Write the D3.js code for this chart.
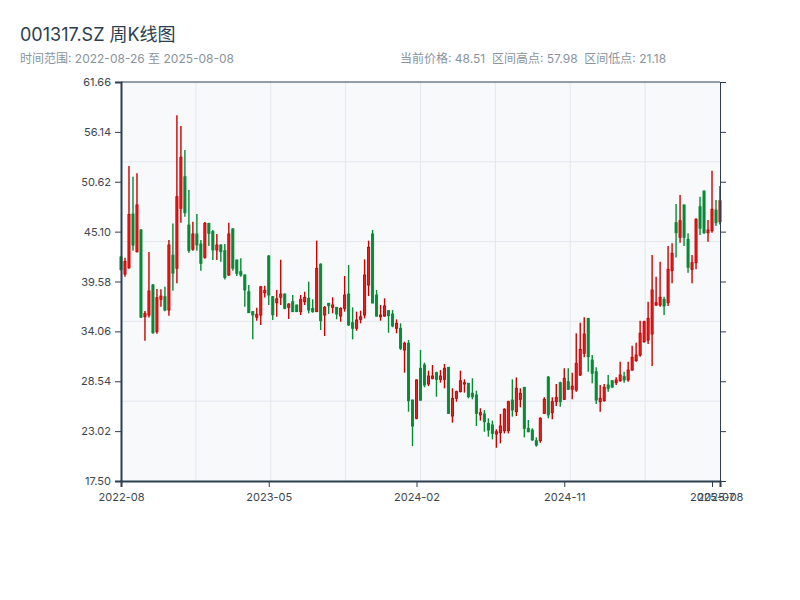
<!DOCTYPE html>
<html><head><meta charset="utf-8">
<script src="https://cdn.jsdelivr.net/npm/d3@7/dist/d3.min.js"></script>
<style>
html,body{margin:0;padding:0;background:#fff;}
svg{display:block;font-family:Inter,"Noto Sans CJK SC",sans-serif;}
</style></head><body>
<div id="chart"></div>
<script>
const symbol = "001317.SZ";
const dates = [
"2022-08-26","2022-09-02","2022-09-09","2022-09-16","2022-09-23","2022-09-30","2022-10-14","2022-10-21","2022-10-28","2022-11-04",
"2022-11-11","2022-11-18","2022-11-25","2022-12-02","2022-12-09","2022-12-16","2022-12-23","2022-12-30","2023-01-06","2023-01-13",
"2023-01-20","2023-02-03","2023-02-10","2023-02-17","2023-02-24","2023-03-03","2023-03-10","2023-03-17","2023-03-24","2023-03-31",
"2023-04-07","2023-04-14","2023-04-21","2023-04-28","2023-05-05","2023-05-12","2023-05-19","2023-05-26","2023-06-02","2023-06-09",
"2023-06-16","2023-06-21","2023-06-30","2023-07-07","2023-07-14","2023-07-21","2023-07-28","2023-08-04","2023-08-11","2023-08-18",
"2023-08-25","2023-09-01","2023-09-08","2023-09-15","2023-09-22","2023-09-28","2023-10-13","2023-10-20","2023-10-27","2023-11-03",
"2023-11-10","2023-11-17","2023-11-24","2023-12-01","2023-12-08","2023-12-15","2023-12-22","2023-12-29","2024-01-05","2024-01-12",
"2024-01-19","2024-01-26","2024-02-02","2024-02-08","2024-02-23","2024-03-01","2024-03-08","2024-03-15","2024-03-22","2024-03-29",
"2024-04-03","2024-04-12","2024-04-19","2024-04-26","2024-04-30","2024-05-10","2024-05-17","2024-05-24","2024-05-31","2024-06-07",
"2024-06-14","2024-06-21","2024-06-28","2024-07-05","2024-07-12","2024-07-19","2024-07-26","2024-08-02","2024-08-09","2024-08-16",
"2024-08-23","2024-08-30","2024-09-06","2024-09-13","2024-09-20","2024-09-27","2024-09-30","2024-10-11","2024-10-18","2024-10-25",
"2024-11-01","2024-11-08","2024-11-15","2024-11-22","2024-11-29","2024-12-06","2024-12-13","2024-12-20","2024-12-27","2025-01-03",
"2025-01-10","2025-01-17","2025-01-24","2025-01-27","2025-02-07","2025-02-14","2025-02-21","2025-02-28","2025-03-07","2025-03-14",
"2025-03-21","2025-03-28","2025-04-03","2025-04-11","2025-04-18","2025-04-25","2025-04-30","2025-05-09","2025-05-16","2025-05-23",
"2025-05-30","2025-06-06","2025-06-13","2025-06-20","2025-06-27","2025-07-04","2025-07-11","2025-07-18","2025-07-25","2025-08-01",
"2025-08-08"];
const open = [
42.3,40.4,41.1,47.05,42.88,45.28,35.68,35.87,39.19,34.02,
37.61,37.9,36.42,42.5,41.04,47.68,51.18,45.83,43.14,44.84,
43.73,42.25,46.0,45.1,43.07,43.62,42.99,40.3,45.4,41.96,
40.67,40.3,38.45,36.24,35.62,35.87,38.34,42.4,37.9,37.23,
37.83,38.19,36.72,37.34,36.98,36.24,37.34,37.72,36.61,36.24,
41.5,35.87,37.17,36.72,36.72,35.76,36.61,38.19,35.02,34.4,
35.39,35.87,39.19,44.84,38.08,35.68,35.76,36.35,35.98,34.4,
34.4,32.0,32.74,26.46,24.44,29.97,30.34,28.24,28.86,29.49,
28.75,28.75,30.08,24.69,26.65,27.39,28.24,28.31,27.21,27.02,
24.81,24.92,23.88,23.7,22.7,22.85,23.07,23.07,26.46,25.17,
26.54,27.87,23.33,23.14,21.96,21.96,24.99,29.0,25.06,26.28,
28.38,26.54,28.49,27.65,27.57,29.23,31.63,35.5,30.89,29.6,
26.28,26.39,28.13,28.6,28.38,28.6,29.05,28.68,29.78,30.82,
31.44,32.92,33.1,33.77,36.98,36.98,37.61,37.23,40.78,46.09,
44.47,48.05,44.25,40.93,41.66,47.86,49.6,44.98,45.2,47.49,
46.2];
const high = [
42.4,42.2,52.36,51.18,51.55,45.4,36.31,42.84,39.3,38.75,
38.72,39.0,44.17,46.0,57.98,56.79,54.13,49.71,46.2,47.05,
44.17,46.16,46.09,45.28,44.84,43.7,43.73,46.09,45.47,42.0,
42.15,40.35,39.19,36.3,36.68,39.08,39.1,42.5,37.97,38.64,
41.98,38.25,37.17,38.08,37.0,38.08,38.45,39.56,37.61,44.1,
41.59,36.87,37.2,37.83,36.75,36.72,40.19,41.4,36.72,36.24,
36.35,42.03,44.1,45.28,38.64,36.98,37.72,36.4,36.42,35.39,
34.95,32.92,33.1,26.5,28.75,32.0,30.6,29.71,30.34,29.6,
29.78,30.45,30.1,27.76,27.5,29.71,28.75,28.35,28.87,27.5,
25.55,25.36,24.44,24.18,23.22,24.92,25.55,26.39,28.75,28.97,
27.76,27.9,24.25,23.33,22.33,24.55,26.76,29.12,26.76,28.24,
28.49,29.97,29.97,29.49,33.85,35.02,35.61,35.5,31.44,30.08,
28.13,28.24,29.23,28.65,28.97,30.71,29.6,30.71,32.47,32.81,
35.24,35.24,37.34,42.51,40.11,41.77,37.9,43.51,43.8,48.16,
49.15,48.1,44.91,42.51,46.57,48.97,49.63,46.39,51.84,48.6,
50.15];
const low = [
40.8,40.1,41.0,42.99,42.8,35.6,33.03,35.6,33.8,33.79,
36.79,36.3,35.8,38.56,39.38,46.09,46.75,42.76,42.99,42.99,
40.78,42.1,43.51,41.96,41.96,41.77,39.8,40.2,40.78,40.2,
40.11,36.79,36.1,33.18,35.24,34.77,37.8,36.98,35.32,35.68,
36.98,36.5,35.43,36.2,36.2,35.87,36.98,36.06,36.13,36.2,
34.21,33.55,35.98,36.06,35.4,35.13,36.24,34.66,33.18,34.13,
34.95,35.5,37.97,37.17,35.68,35.24,35.68,33.91,34.51,33.85,
32.0,29.49,25.17,21.37,24.33,26.39,27.87,28.01,28.75,26.83,
28.38,27.76,24.92,23.95,26.28,27.3,27.28,26.65,26.54,23.59,
24.18,22.95,22.4,22.11,21.18,21.67,22.77,22.77,24.62,24.69,
25.66,22.33,22.9,21.96,21.3,21.74,24.92,24.44,24.33,25.8,
25.72,26.46,27.57,26.54,27.39,29.12,31.19,29.6,28.31,26.02,
25.17,26.28,27.39,27.8,28.13,28.49,28.38,28.49,29.7,30.71,
31.26,32.81,32.66,30.23,36.87,36.79,35.87,36.87,39.38,42.25,
43.88,43.51,40.56,39.38,40.93,44.73,44.84,43.98,44.98,45.72,
45.9];
const close = [
40.9,41.8,47.0,43.6,48.05,35.62,36.06,38.53,33.91,37.79,
37.97,36.42,43.62,40.5,48.97,53.33,47.2,42.99,44.84,43.62,
41.59,46.02,44.91,43.07,43.62,42.88,40.02,44.84,41.04,40.48,
40.3,38.64,36.13,35.87,35.95,39.0,38.6,38.08,35.9,37.67,
38.19,36.6,37.09,36.24,36.24,37.61,37.83,36.42,36.24,41.04,
35.24,36.72,36.9,36.98,35.98,36.61,38.08,34.77,34.4,35.32,
35.68,40.3,43.36,37.2,35.76,35.87,36.87,35.8,34.66,34.95,
32.19,32.74,26.39,23.59,28.68,26.45,28.13,29.12,29.12,28.75,
29.12,29.97,24.99,26.65,27.39,28.6,28.38,26.83,26.83,24.99,
25.06,24.07,23.14,22.77,22.95,23.59,25.44,26.28,25.36,27.76,
27.21,23.33,22.95,22.04,21.48,24.44,26.54,24.81,26.28,26.76,
26.28,28.86,27.65,27.99,30.52,32.07,33.77,31.26,29.42,26.46,
26.65,27.87,27.76,27.9,28.68,29.23,28.68,29.78,31.19,31.44,
33.85,35.13,35.5,38.64,37.23,37.83,36.87,40.93,42.7,44.98,
46.31,44.47,41.15,41.66,46.46,45.47,44.98,45.28,47.57,46.09,
48.51];

const W = 800, H = 600;
const m = {top: 82, right: 80, bottom: 119, left: 121};
const iw = W - m.left - m.right, ih = H - m.top - m.bottom;
const n = dates.length;
const data = dates.map((d, i) => ({date: d, o: open[i], h: high[i], l: low[i], c: close[i]}));

const hi = d3.max(high), lo = d3.min(low);
const pad = (hi - lo) * 0.1;
const yMin = lo - pad, yMax = hi + pad;

const svg = d3.select("#chart").append("svg").attr("width", W).attr("height", H);

svg.append("text").attr("x", 20).attr("y", 41).attr("fill", "#2c3e50")
  .style("font-size", "18px").text(symbol + " 周K线图");
svg.append("text").attr("x", 20).attr("y", 63).attr("fill", "#8a939c")
  .style("font-size", "12px").text("时间范围: " + dates[0] + " 至 " + dates[n - 1]);
svg.append("text").attr("x", 400).attr("y", 63).attr("fill", "#8a939c")
  .style("font-size", "12px")
  .text("当前价格: " + close[n - 1].toFixed(2) + "  区间高点: " + hi.toFixed(2) + "  区间低点: " + lo.toFixed(2))
  .attr("xml:space", "preserve").style("white-space", "pre");

const g = svg.append("g").attr("transform", `translate(${m.left},${m.top})`);
const x = d3.scaleLinear().domain([0, n - 1]).range([0, iw]);
const y = d3.scaleLinear().domain([yMin, yMax]).range([ih, 0]);

g.append("rect").attr("width", iw).attr("height", ih).attr("fill", "#f7f9fb");

// grid
const gx = d3.range(1, 8).map(k => iw * k / 8);
const gy = d3.range(1, 5).map(k => ih * k / 5);
g.selectAll(".vg").data(gx).join("line").attr("x1", d => d).attr("x2", d => d)
  .attr("y1", 0).attr("y2", ih).attr("stroke", "#e3e7ec").attr("stroke-width", 1);
g.selectAll(".hg").data(gy).join("line").attr("y1", d => d).attr("y2", d => d)
  .attr("x1", 0).attr("x2", iw).attr("stroke", "#e3e7ec").attr("stroke-width", 1);

// candles
const up = d => d.c >= d.o;
const upStroke = "#c80000", upFill = "#e61e1e", downCol = "#078a35";
const bw = 2.1;
const cg = g.append("g");
cg.selectAll(".wick").data(data).join("line")
  .attr("x1", (d, i) => x(i)).attr("x2", (d, i) => x(i))
  .attr("y1", d => y(d.h)).attr("y2", d => y(d.l))
  .attr("stroke", d => up(d) ? upStroke : downCol).attr("stroke-width", 1.4);
cg.selectAll(".body").data(data).join("rect")
  .attr("x", (d, i) => x(i) - bw / 2).attr("width", bw)
  .attr("y", d => y(Math.max(d.o, d.c)))
  .attr("height", d => Math.max(0.8, Math.abs(y(d.o) - y(d.c))))
  .attr("fill", d => up(d) ? upFill : downCol)
  .attr("stroke", d => up(d) ? upStroke : downCol).attr("stroke-width", 0.9);

// axes
const yTicks = d3.range(0, 9).map(k => yMin + (yMax - yMin) * k / 8);
const axisColor = "#2c3e50";
const yAxis = g.append("g").call(d3.axisLeft(y).tickValues(yTicks).tickSize(6).tickPadding(4).tickFormat(d => d.toFixed(2)));
const yAxisR = g.append("g").attr("transform", `translate(${iw},0)`)
  .call(d3.axisRight(y).tickValues(yTicks).tickSize(6).tickFormat(""));
g.append("line").attr("x1", 0).attr("x2", iw).attr("y1", 0).attr("y2", 0)
  .attr("stroke", axisColor).attr("stroke-width", 1);

const step = Math.floor(n / 4);
const xTickIdx = d3.range(0, n, step);
if (xTickIdx[xTickIdx.length - 1] !== n - 1) xTickIdx.push(n - 1);
const xAxis = g.append("g").attr("transform", `translate(0,${ih})`)
  .call(d3.axisBottom(x).tickValues(xTickIdx).tickSize(6).tickPadding(6)
    .tickFormat(i => dates[i].slice(0, 7)));

[yAxis, xAxis].forEach(a => {
  a.select(".domain").attr("stroke", axisColor).attr("stroke-width", 2);
  a.selectAll(".tick line").attr("stroke", axisColor).attr("stroke-width", 1);
  a.selectAll(".tick text").attr("fill", "#3c4650").style("font-size", "11px")
    .style("font-family", "Inter, sans-serif");
});
yAxisR.select(".domain").attr("stroke", axisColor).attr("stroke-width", 1);
yAxisR.selectAll(".tick line").attr("stroke", axisColor);
</script>
</body></html>
